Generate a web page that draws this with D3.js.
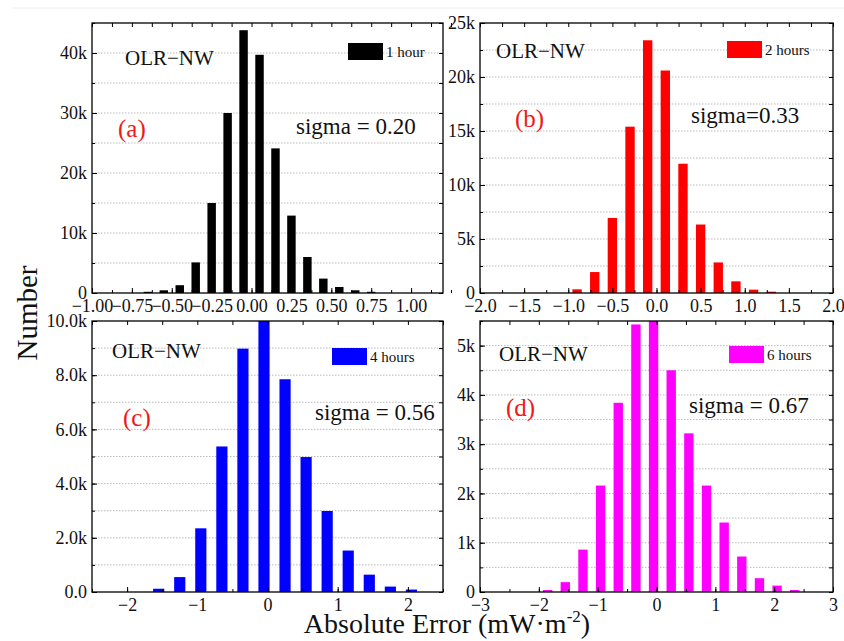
<!DOCTYPE html>
<html>
<head>
<meta charset="utf-8">
<script src="https://cdn.jsdelivr.net/npm/d3@7"></script>
<style>
  body { margin: 0; background: #fff; }
  svg { display: block; font-family: "Liberation Serif", "Times New Roman", serif; }
</style>
</head>
<body>
<div id="chart"></div>
<script>
// bin centres and counts
const binsA = [-0.65, -0.55, -0.45, -0.35, -0.25, -0.15, -0.05, 0.05, 0.15, 0.25, 0.35, 0.45, 0.55, 0.65, 0.75];
const countsA = [200, 450, 1300, 5100, 15000, 30000, 43800, 39700, 24100, 12900, 6000, 2400, 1000, 450, 200];

const binsB = [-0.9, -0.7, -0.5, -0.3, -0.1, 0.1, 0.3, 0.5, 0.7, 0.9, 1.1, 1.3];
const countsB = [340, 1940, 6950, 15400, 23400, 20600, 11970, 6340, 2830, 1080, 310, 120];

const binsC = [-1.55, -1.25, -0.95, -0.65, -0.35, -0.05, 0.25, 0.55, 0.85, 1.15, 1.45, 1.75, 2.05];
const countsC = [120, 550, 2350, 5370, 8980, 10000, 7850, 4980, 2990, 1530, 640, 200, 90];

const binsD = [-1.85, -1.55, -1.25, -0.95, -0.65, -0.35, -0.05, 0.25, 0.55, 0.85, 1.15, 1.45, 1.75, 2.05, 2.35];
const countsD = [40, 200, 860, 2160, 3840, 5430, 5500, 4500, 3220, 2160, 1410, 720, 280, 130, 40];

const legendLabels = ["1 hour", "2 hours", "4 hours", "6 hours"];
const panelLetters = ["(a)", "(b)", "(c)", "(d)"];
const sigmaLabels = ["sigma = 0.20", "sigma=0.33", "sigma = 0.56", "sigma = 0.67"];

const xTicksA = [-1, -0.75, -0.5, -0.25, 0, 0.25, 0.5, 0.75, 1];
const xTicksB = [-2, -1.5, -1, -0.5, 0, 0.5, 1, 1.5, 2];
const xTicksC = [-2, -1, 0, 1, 2];
const xTicksD = [-3, -2, -1, 0, 1, 2, 3];
const yTicksA = [0, 10000, 20000, 30000, 40000];
const yTicksB = [0, 5000, 10000, 15000, 20000, 25000];
const yTicksC = [0, 2000, 4000, 6000, 8000, 10000];
const yTicksD = [0, 1000, 2000, 3000, 4000, 5000];

const width = 844, height = 641;

const svg = d3.select("#chart")
  .append("svg")
  .attr("width", width)
  .attr("height", height);

svg.append("rect").attr("width", width).attr("height", height).attr("fill", "#fff");
svg.append("line")
  .attr("x1", 12).attr("x2", width).attr("y1", 8).attr("y2", 8)
  .attr("stroke", "#eee").attr("stroke-width", 1);

const panels = [
  { bins: binsA, counts: countsA, binW: 0.1, color: "#000000",
    box: [92, 443, 23, 293], xDom: [-1, 1.2], yMax: 45000,
    xTicks: xTicksA, xMinor: 0.125, xFmt: d3.format(".2f"),
    yTicks: yTicksA, yMinor: 5000, yFmt: d => d === 0 ? "0" : (d / 1000) + "k",
    olr: [125, 65], letter: [118, 137], sigma: [296, 134], legend: [348, 43] },
  { bins: binsB, counts: countsB, binW: 0.2, color: "#ff0000",
    box: [480, 833, 23, 293], xDom: [-2, 2], yMax: 25000,
    xTicks: xTicksB, xMinor: 0.25, xFmt: d3.format(".1f"),
    yTicks: yTicksB, yMinor: 2500, yFmt: d => d === 0 ? "0" : (d / 1000) + "k",
    olr: [496, 58], letter: [515, 127], sigma: [691, 123], legend: [727, 41] },
  { bins: binsC, counts: countsC, binW: 0.3, color: "#0000ff",
    box: [92, 443, 321, 592], xDom: [-2.5, 2.5], yMax: 10000,
    xTicks: xTicksC, xMinor: 0.5, xFmt: d3.format("d"),
    yTicks: yTicksC, yMinor: 1000, yFmt: d => d === 0 ? "0.0" : (d / 1000).toFixed(1) + "k",
    olr: [112, 358], letter: [123, 426], sigma: [315, 420], legend: [332, 348] },
  { bins: binsD, counts: countsD, binW: 0.3, color: "#ff00ff",
    box: [480, 833, 321, 592], xDom: [-3, 3], yMax: 5500,
    xTicks: xTicksD, xMinor: 0.5, xFmt: d3.format("d"),
    yTicks: yTicksD, yMinor: 500, yFmt: d => d === 0 ? "0" : (d / 1000) + "k",
    olr: [499, 361], letter: [506, 416], sigma: [689, 413], legend: [729, 346] }
];

function range(lo, hi, step) {
  const out = [];
  const n = Math.round((hi - lo) / step);
  for (let i = 0; i <= n; i++) out.push(+(lo + i * step).toFixed(6));
  return out;
}

panels.forEach((p, i) => {
  const [x0, x1, y0, y1] = p.box;
  const x = d3.scaleLinear().domain(p.xDom).range([x0, x1]);
  const y = d3.scaleLinear().domain([0, p.yMax]).range([y1, y0]);
  const g = svg.append("g");

  // dotted gridlines at every y tick (major and minor)
  const yAll = range(0, p.yMax, p.yMinor).filter(v => v > 0 && v < p.yMax);
  g.selectAll(".grid")
    .data(yAll)
    .enter().append("line")
    .attr("x1", x0).attr("x2", x1)
    .attr("y1", d => y(d)).attr("y2", d => y(d))
    .attr("stroke", "#bbb")
    .attr("stroke-width", 1)
    .attr("stroke-dasharray", "1.5,1.5");

  // bars
  const data = p.bins.map((b, j) => ({ x: b, v: p.counts[j] }));
  const half = p.binW * 0.265;
  g.selectAll(".bar")
    .data(data)
    .enter().append("rect")
    .attr("x", d => x(d.x - half))
    .attr("width", d => x(d.x + half) - x(d.x - half))
    .attr("y", d => y(Math.min(d.v, p.yMax)))
    .attr("height", d => y1 - y(Math.min(d.v, p.yMax)))
    .attr("fill", p.color);

  // axes, ticks inward
  const xMinorVals = range(p.xDom[0], p.xDom[1], p.xMinor);
  const yMinorVals = range(0, p.yMax, p.yMinor);

  const styleAxis = sel => {
    sel.select(".domain").remove();
    sel.selectAll("line").attr("stroke", "#000").attr("stroke-width", 1);
    sel.selectAll("text")
      .attr("fill", "#111")
      .style("font-family", "'Liberation Serif', serif")
      .style("font-size", "18px");
  };

  g.append("g").attr("transform", `translate(0,${y1})`)
    .call(d3.axisBottom(x).tickValues(xMinorVals).tickFormat("").tickSize(-3))
    .call(styleAxis);
  g.append("g").attr("transform", `translate(0,${y1})`)
    .call(d3.axisBottom(x).tickValues(p.xTicks).tickFormat(p.xFmt).tickSize(-5).tickPadding(6))
    .call(styleAxis);
  g.append("g").attr("transform", `translate(0,${y0})`)
    .call(d3.axisTop(x).tickValues(xMinorVals).tickFormat("").tickSize(-4))
    .call(styleAxis);

  g.append("g").attr("transform", `translate(${x0},0)`)
    .call(d3.axisLeft(y).tickValues(yMinorVals).tickFormat("").tickSize(-3))
    .call(styleAxis);
  g.append("g").attr("transform", `translate(${x0},0)`)
    .call(d3.axisLeft(y).tickValues(p.yTicks).tickFormat(p.yFmt).tickSize(-5).tickPadding(5))
    .call(styleAxis);
  g.append("g").attr("transform", `translate(${x1},0)`)
    .call(d3.axisRight(y).tickValues(yMinorVals).tickFormat("").tickSize(-4))
    .call(styleAxis);

  // frame
  g.append("rect")
    .attr("x", x0).attr("y", y0)
    .attr("width", x1 - x0).attr("height", y1 - y0)
    .attr("fill", "none").attr("stroke", "#000").attr("stroke-width", 1.3);

  // annotations
  g.append("text")
    .attr("x", p.olr[0]).attr("y", p.olr[1])
    .style("font-size", "21px").attr("fill", "#111")
    .text("OLR\u2212NW");
  g.append("text")
    .attr("x", p.letter[0]).attr("y", p.letter[1])
    .style("font-size", "25px").attr("fill", "#f01818")
    .text(panelLetters[i]);
  g.append("text")
    .attr("x", p.sigma[0]).attr("y", p.sigma[1])
    .style("font-size", "23px").attr("fill", "#111")
    .text(sigmaLabels[i]);

  // legend
  g.append("rect")
    .attr("x", p.legend[0]).attr("y", p.legend[1])
    .attr("width", 35).attr("height", 17)
    .attr("fill", p.color);
  g.append("text")
    .attr("x", p.legend[0] + 38).attr("y", p.legend[1] + 14)
    .style("font-size", "15px").attr("fill", "#111")
    .text(legendLabels[i]);
});

// shared axis titles
svg.append("text")
  .attr("transform", "translate(37,313) rotate(-90)")
  .attr("text-anchor", "middle")
  .style("font-size", "29px")
  .attr("fill", "#111")
  .text("Number");

const xt = svg.append("text")
  .attr("x", 447).attr("y", 633)
  .attr("text-anchor", "middle")
  .style("font-size", "28px")
  .attr("fill", "#111");
xt.append("tspan").text("Absolute Error (mW\u00b7m");
xt.append("tspan").attr("dy", -11).style("font-size", "17px").text("-2");
xt.append("tspan").attr("dy", 11).text(")");
</script>
</body>
</html>
